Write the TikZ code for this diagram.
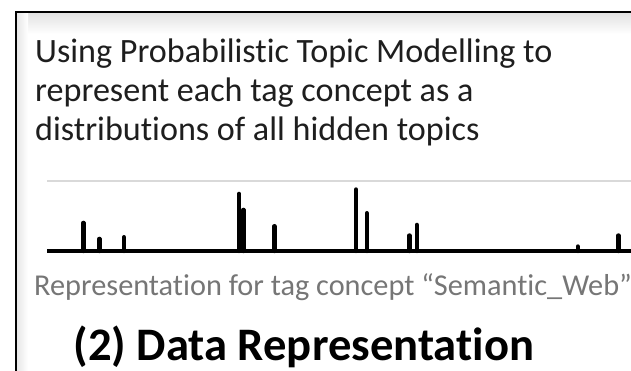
\documentclass[tikz,border=0pt]{standalone}
\usepackage{fontspec}
\setmainfont{Carlito}[Ligatures={CommonOff}]
\definecolor{bodytext}{HTML}{1E1E1E}
\definecolor{captiongray}{HTML}{767676}
\definecolor{gridgray}{HTML}{D9D9D9}
\definecolor{shadowgray}{HTML}{E2E2E2}
\tikzset{
  frame/.style={line width=2.4pt, black},
  bodyline/.style={anchor=base west, inner sep=0pt, text=bodytext,
    font=\fontsize{34.1}{40}\selectfont},
  captionline/.style={anchor=base west, inner sep=0pt, text=captiongray,
    font=\fontsize{30.3}{36}\selectfont},
  headline/.style={anchor=base west, inner sep=0pt, text=black,
    font=\fontsize{46.6}{55}\selectfont\bfseries},
  gridline/.style={line width=2pt, gridgray},
  axisline/.style={line width=4pt, black},
  spike/.style={line width=4.4pt, black, line cap=round},
}
\begin{document}
\begin{tikzpicture}[x=1pt, y=-1pt]
  \useasboundingbox (0,0) rectangle (631,371);
  \clip (0,0) rectangle (631,371);
  \fill[white] (0,0) rectangle (631,371);

  % soft inner shadow of the panel frame
  \shade[top color=shadowgray, bottom color=white] (17,13) rectangle (631,34);
  \shade[left color=shadowgray!80, right color=white] (17,13) rectangle (28,371);

  % panel frame (open to the right and bottom)
  \draw[frame] (16.2,375) -- (16.2,12.2) -- (635,12.2);

  % description
  \node[bodyline] (l1) at (35,62.5) {Using Probabilistic Topic Modelling to};
  \node[bodyline] (l2) at (35,101.5) {represent each tag concept as a};
  \node[bodyline] (l3) at (35,140.5) {distributions of all hidden topics};

  % topic distribution plot
  \coordinate (gtop0) at (47,181.5);
  \coordinate (gtop1) at (635,181.5);
  \coordinate (ax0) at (47,251);
  \coordinate (ax1) at (635,251);
  \draw[gridline] (gtop0) -- (gtop1);

  \foreach \px/\py in {83.3/220.7, 99.3/236.7, 124/235, 239/191.7, 243.3/207.7,
                       274.3/224, 356/187.3, 366.7/211, 409.3/233.3, 416.7/222.7,
                       577.7/244.3, 618.3/233.3}
    \draw[spike] (\px,251) -- (\px,\py+2.2);

  \draw[axisline] (ax0) -- (ax1);

  % captions
  \node[captionline] (cap) at (34,295) {Representation for tag concept “Semantic\_Web”};
  \node[headline] (head) at (73.3,360.5) {(2) Data Representation};
\end{tikzpicture}
\end{document}
